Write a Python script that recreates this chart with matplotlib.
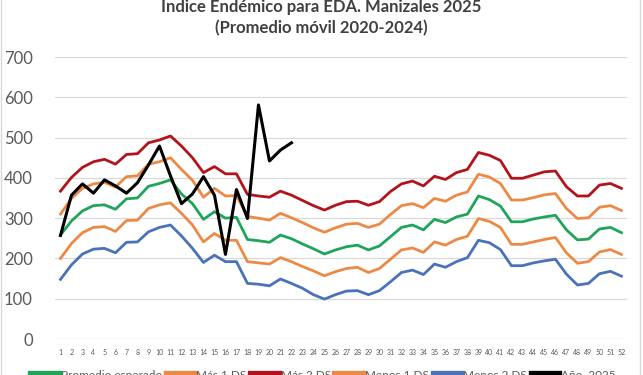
import numpy as np
import matplotlib
matplotlib.use('Agg')
import matplotlib.pyplot as plt
from matplotlib.patches import Rectangle

plt.rcParams['font.family'] = ['Lato', 'DejaVu Sans']

weeks = list(range(1, 53))

promedio = [258, 293, 318, 331, 333, 322, 348, 350, 379, 386, 395, 360, 336, 297, 316, 300, 302, 247,
            244, 240, 258, 249, 236, 224, 211, 221, 229, 233, 221, 231, 254, 277, 283, 271, 297, 289,
            303, 310, 355, 346, 330, 291, 291, 298, 303, 307, 271, 246, 248, 273, 277, 264]
mas1 = [310, 349, 374, 385, 389, 377, 403, 405, 434, 440, 450, 421, 394, 352, 374, 355, 356, 304,
        300, 295, 312, 301, 289, 276, 265, 276, 285, 287, 277, 285, 309, 331, 336, 326, 349, 342,
        357, 365, 409, 402, 386, 345, 345, 351, 358, 361, 324, 299, 301, 327, 331, 319]
mas2 = [367, 401, 426, 440, 446, 434, 458, 460, 487, 494, 504, 479, 450, 413, 428, 410, 410, 359,
        355, 352, 367, 357, 344, 331, 320, 332, 341, 342, 332, 341, 366, 385, 392, 380, 404, 396,
        413, 421, 463, 456, 443, 399, 399, 407, 415, 417, 378, 355, 355, 382, 386, 374]
menos1 = [200, 237, 264, 277, 279, 267, 294, 295, 324, 333, 338, 312, 283, 241, 262, 245, 245, 192,
          189, 186, 202, 192, 180, 169, 157, 167, 175, 178, 165, 175, 198, 221, 226, 215, 241, 233,
          247, 255, 299, 292, 277, 235, 235, 241, 247, 252, 214, 188, 192, 216, 222, 210]
menos2 = [148, 184, 211, 223, 225, 214, 240, 241, 266, 277, 283, 256, 225, 190, 208, 192, 192, 138,
          136, 132, 149, 138, 126, 110, 99, 110, 119, 120, 110, 120, 142, 165, 171, 160, 186, 178,
          192, 202, 245, 239, 222, 182, 182, 189, 194, 198, 161, 134, 138, 162, 168, 156]
anio2025 = [257, 357, 385, 362, 395, 380, 362, 388, 432, 479, 405, 336, 360, 403, 357, 210, 371, 299,
            581, 442, 469, 487]

fig = plt.figure(figsize=(6.43, 3.75), dpi=100)
ax = fig.add_axes([0.0855, 0.096, 0.8895, 0.752])

ax.plot(weeks, promedio, color='#1fa55a', lw=2.0, label='Promedio esperado')
ax.plot(weeks, mas1, color='#ec8a45', lw=2.0, label='Más 1 DS')
ax.plot(weeks, mas2, color='#b3141b', lw=2.0, label='Más 2 DS')
ax.plot(weeks, menos1, color='#ec8a45', lw=2.0, label='Menos 1 DS')
ax.plot(weeks, menos2, color='#4a72b8', lw=2.0, label='Menos 2 DS')
ax.plot(weeks[:len(anio2025)], anio2025, color='black', lw=2.2, label='Año  2025')

ax.set_xlim(0.5, 52.5)
ax.set_ylim(0, 700)
ax.set_yticks(range(0, 701, 100))
ax.set_xticks(weeks)
ax.set_xticklabels([str(w) for w in weeks], fontsize=5, color='#595959')
ax.tick_params(axis='y', labelsize=12, colors='#595959', length=0, pad=16)
ax.tick_params(axis='x', length=0, pad=7)
ax.grid(axis='y', color='#d9d9d9', lw=0.9)
ax.set_axisbelow(True)
for s in ax.spines.values():
    s.set_visible(False)

fig.text(0.5, 0.985, 'Índice Endémico para EDA. Manizales 2025', ha='center', va='center',
         fontsize=12, fontweight='bold', color='#404040')
fig.text(0.5, 0.925, '(Promedio móvil 2020-2024)', ha='center', va='center',
         fontsize=12, fontweight='bold', color='#404040')

leg = fig.legend(loc='center', bbox_to_anchor=(0.504, -0.002), ncol=6, frameon=False, fontsize=8.5,
                 handlelength=2.2, handletextpad=0.25, columnspacing=0.45, labelcolor='#595959')
for h in leg.get_lines():
    h.set_linewidth(6)

fig.patches.append(Rectangle((0.002, -0.05), 0.994, 1.1, transform=fig.transFigure,
                             fill=False, edgecolor='#d9d9d9', lw=1))

fig.savefig('out.png', dpi=100)
